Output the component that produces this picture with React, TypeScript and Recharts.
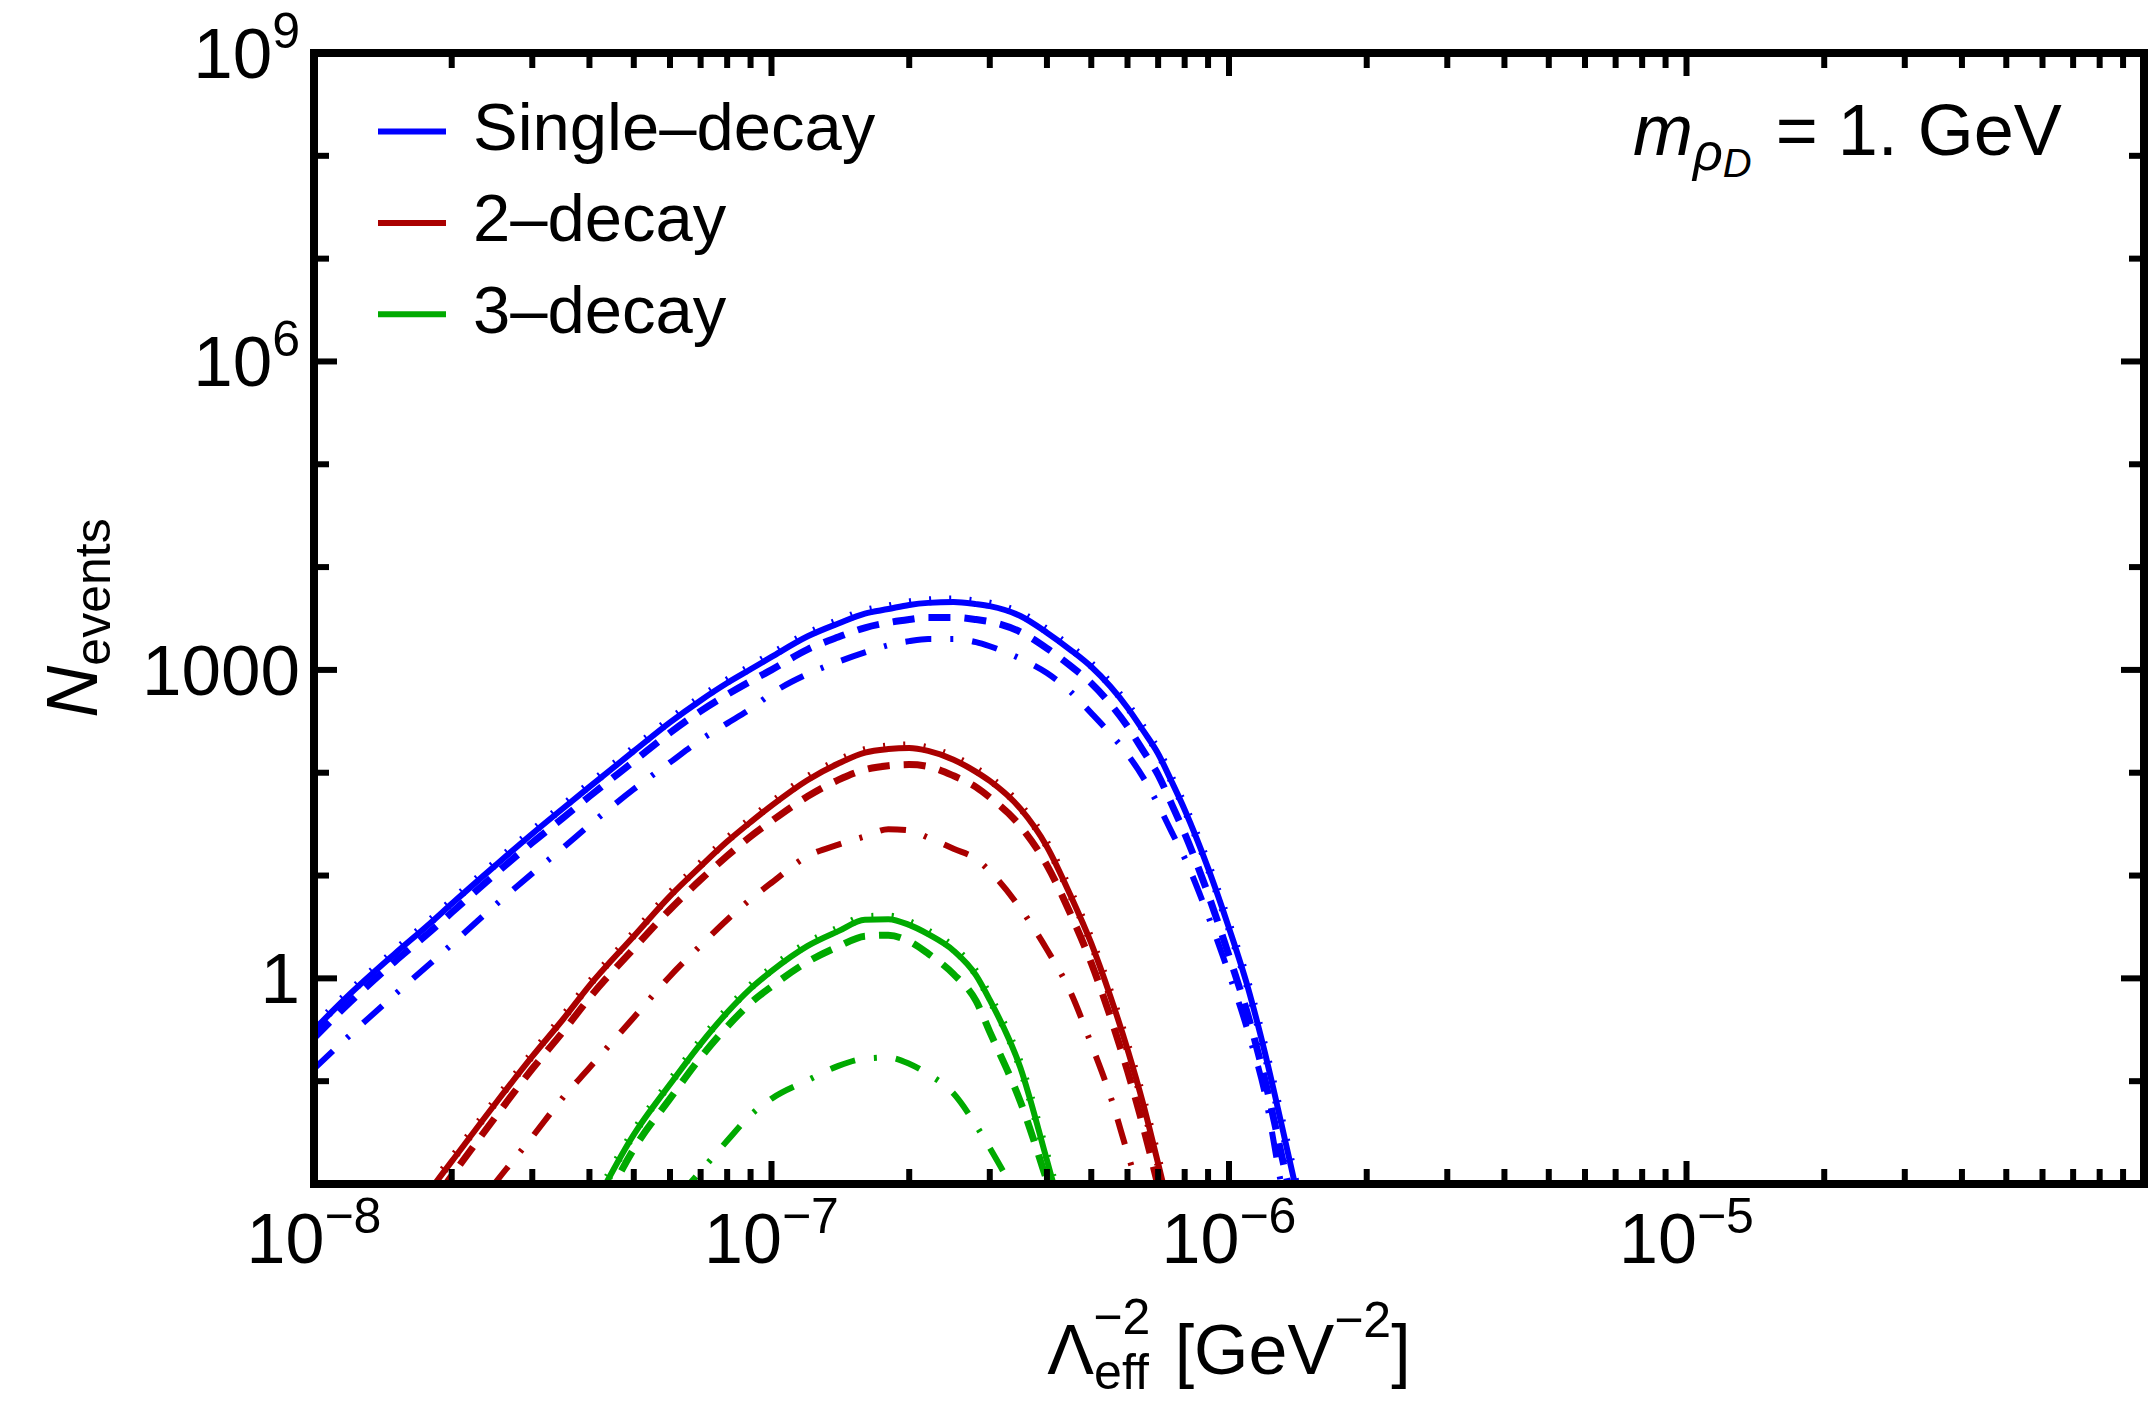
import React from 'react';
import { LineChart, Line, XAxis, YAxis, Legend } from 'recharts';

const W = 2150;
const H = 1404;
const FONT = '"Liberation Sans", Arial, Helvetica, sans-serif';
const BLUE = '#0000FF';
const RED = '#AA0000';
const GREEN = '#00AA00';

const nulls = (n: number) => Array(n).fill(null);

// Lambda_eff^-2 [GeV^-2]
const lambdaValues = [
  1e-8, 1.2e-8, 1.5e-8, 1.8e-8, 2e-8, 2.5e-8, 3e-8, 3.5e-8, 4e-8, 5e-8, 6e-8, 7e-8, 8e-8, 9e-8,
  1e-7, 1.2e-7, 1.4e-7, 1.6e-7, 1.8e-7, 2e-7, 2.2e-7, 2.5e-7, 2.8e-7, 3e-7, 3.5e-7, 4e-7, 4.5e-7,
  5e-7, 5.5e-7, 6e-7, 6.5e-7, 7e-7, 7.5e-7, 8e-7, 9e-7, 1e-6, 1.1e-6, 1.2e-6, 1.3e-6, 1.4e-6, 1.5e-6,
];

// Single-decay
const blueSolid = [
  0.316, 0.708, 1.73, 3.48, 5.31, 12.7, 25.5, 44.9, 72.8, 162, 309, 505, 745, 1014, 1337, 2123, 2831,
  3532, 3908, 4285, 4487, 4571, 4365, 4169, 3342, 2301, 1570, 1072, 693, 429, 255, 153, 81.3, 43.7,
  11.8, 3.08, 0.811, 0.184, 0.0395, 0.00912, 0.00224,
];
const blueDotted = [
  0.331, 0.741, 1.81, 3.64, 5.56, 13.3, 26.7, 47.0, 76.2, 170, 323, 529, 780, 1062, 1400, 2223, 2964,
  3698, 4092, 4486, 4698, 4786, 4570, 4365, 3499, 2409, 1644, 1122, 726, 449, 267, 160, 85.1, 45.8,
  12.4, 3.22, 0.85, 0.193, 0.0414, 0.00955, 0.00235,
];
const blueDashed = [
  0.263, 0.589, 1.45, 2.88, 4.37, 10.5, 20.9, 36.3, 58.9, 129, 245, 398, 575, 776, 1000, 1585, 2089,
  2570, 2884, 3090, 3236, 3236, 3090, 2951, 2344, 1622, 1096, 741, 468, 282, 162, 95.5, 49.0, 25.7,
  6.61, 1.66, 0.437, 0.1, 0.02, 0.00447, 0.001,
];
const blueDotDashed = [
  0.132, 0.282, 0.692, 1.41, 2.14, 5.25, 10.5, 18.6, 30.9, 69.2, 126, 209, 302, 417, 589, 912, 1202,
  1479, 1738, 1905, 1995, 1995, 1862, 1698, 1288, 933, 617, 380, 240, 151, 89.1, 49.0, 26.3, 14.8,
  4.07, 1.11, 0.302, 0.0724, 0.01, 0.002, null,
];

// 2-decay
const redSolid = [
  ...nulls(2), 0.00316, 0.00891, 0.0166, 0.0617, 0.174, 0.398, 0.851, 2.57, 6.31, 12.3, 21.4, 33.1,
  47.9, 85.1, 123, 157, 170, 174, 163, 134, 102, 83.2, 44.7, 19.1, 6.46, 2.19, 0.676, 0.204, 0.0589,
  0.0158, 0.00447, 0.00126, ...nulls(7),
];
const redDotted = [
  ...nulls(2), 0.00331, 0.00933, 0.0174, 0.0646, 0.182, 0.417, 0.891, 2.69, 6.61, 12.9, 22.4, 34.7,
  50.2, 89.1, 129, 164, 178, 182, 171, 140, 107, 87.1, 46.8, 20.0, 6.76, 2.29, 0.708, 0.214, 0.0617,
  0.0165, 0.00468, 0.00132, ...nulls(7),
];
const redDashed = [
  ...nulls(2), 0.00224, 0.00631, 0.012, 0.0457, 0.132, 0.302, 0.646, 1.95, 4.68, 9.12, 15.5, 24.0,
  33.9, 58.9, 85.1, 107, 117, 120, 115, 93.3, 72.4, 57.5, 30.2, 12.6, 4.27, 1.41, 0.427, 0.126,
  0.0355, 0.00955, 0.00251, ...nulls(8),
];
const redDotDashed = [
  ...nulls(4), 0.00282, 0.0105, 0.0288, 0.0692, 0.135, 0.417, 1.05, 2.09, 3.72, 5.89, 8.51, 15.5,
  20.0, 24.0, 28.2, 27.5, 23.4, 18.2, 14.5, 11.0, 4.79, 1.91, 0.741, 0.229, 0.0724, 0.02, 0.00631,
  0.002, ...nulls(9),
];

// 3-decay
const greenSolid = [
  ...nulls(8), 0.00501, 0.0302, 0.0933, 0.231, 0.465, 0.794, 1.175, 2.07, 2.88, 3.72, 3.76, 3.31,
  2.69, 1.86, 1.07, 0.617, 0.135, 0.017, 0.00251, ...nulls(14),
];
const greenDotted = [
  ...nulls(8), 0.00525, 0.0316, 0.0977, 0.242, 0.487, 0.831, 1.23, 2.17, 3.02, 3.89, 3.94, 3.47,
  2.82, 1.95, 1.12, 0.646, 0.141, 0.0178, 0.00263, ...nulls(14),
];
const greenDashed = [
  ...nulls(8), 0.00316, 0.0219, 0.0676, 0.17, 0.339, 0.575, 0.832, 1.45, 2.04, 2.57, 2.63, 2.29,
  1.74, 1.10, 0.603, 0.302, 0.0631, 0.0107, 0.002, ...nulls(14),
];
const greenDotDashed = [
  ...nulls(9), 0.00251, 0.00617, 0.0133, 0.0263, 0.0468, 0.0676, 0.102, 0.141, 0.166, 0.170, 0.148,
  0.117, 0.0759, 0.0372, 0.0224, 0.00631, 0.00158, ...nulls(15),
];

// axes
const xDomain = [1e-8, 1e-4];
const yDomain = [0.01, 1e9];
const xDecadeExponents = [-8, -7, -6, -5];
const xMantissas = [1, 2, 3, 4, 5, 6, 7, 8, 9];
const xTickLabelExps = ['\u22128', '\u22127', '\u22126', '\u22125'];
const xTicks = xDecadeExponents.flatMap((e) => xMantissas.map((m) => m * Math.pow(10, e)));
const yTicks = [0.1, 1, 10, 100, 1000, 1e4, 1e5, 1e6, 1e7, 1e8, 1e9];
const yLabelValues = [1, 1000, 1e6, 1e9];
const yLabelBases = ['1', '1000', '10', '10'];
const yLabelExps = ['', '', '6', '9'];

const legendItems = [
  { label: 'Single\u2013decay', color: BLUE },
  { label: '2\u2013decay', color: RED },
  { label: '3\u2013decay', color: GREEN },
];

const isDecade = (v: number) => Math.abs(Math.log10(v) - Math.round(Math.log10(v))) < 1e-6;
const TICK_W = 6;
const MAJOR_LEN = 23;
const MINOR_LEN = 15;
const frameLine = { stroke: '#000', strokeWidth: 8, strokeLinecap: 'square' as const };

const BottomTick = (props: any) => {
  const { x, y, payload } = props;
  const v = payload.value;
  const major = isDecade(v);
  const e = Math.round(Math.log10(v));
  const idx = xDecadeExponents.indexOf(e);
  return (
    <g>
      <line x1={x} x2={x} y1={y} y2={y - (major ? MAJOR_LEN : MINOR_LEN)} stroke="#000" strokeWidth={TICK_W} />
      {major && idx >= 0 && (
        <text x={x} y={y + 79} textAnchor="middle" fontFamily={FONT} fill="#000">
          <tspan fontSize={70}>10</tspan>
          <tspan fontSize={50} dy={-30}>{xTickLabelExps[idx]}</tspan>
        </text>
      )}
    </g>
  );
};

const TopTick = (props: any) => {
  const { x, y, payload } = props;
  const major = isDecade(payload.value);
  return (
    <line x1={x} x2={x} y1={y} y2={y + (major ? MAJOR_LEN : MINOR_LEN)} stroke="#000" strokeWidth={TICK_W} />
  );
};

const LeftTick = (props: any) => {
  const { x, y, payload } = props;
  const v = payload.value;
  const idx = yLabelValues.findIndex((l) => Math.abs(Math.log10(l) - Math.log10(v)) < 1e-6);
  const major = idx >= 0;
  return (
    <g>
      <line x1={x} x2={x + (major ? MAJOR_LEN : MINOR_LEN)} y1={y} y2={y} stroke="#000" strokeWidth={TICK_W} />
      {major && (
        <text x={x - 14} y={y + 25} textAnchor="end" fontFamily={FONT} fill="#000">
          <tspan fontSize={71}>{yLabelBases[idx]}</tspan>
          {yLabelExps[idx] && (
            <tspan fontSize={50} dy={-30}>
              {yLabelExps[idx]}
            </tspan>
          )}
        </text>
      )}
    </g>
  );
};

const RightTick = (props: any) => {
  const { x, y, payload } = props;
  const v = payload.value;
  const major = yLabelValues.some((l) => Math.abs(Math.log10(l) - Math.log10(v)) < 1e-6);
  return (
    <line x1={x} x2={x - (major ? MAJOR_LEN : MINOR_LEN)} y1={y} y2={y} stroke="#000" strokeWidth={TICK_W} />
  );
};

const renderLegend = () => (
  <svg width={620} height={280} style={{ overflow: 'visible' }}>
    {legendItems.map((it, i) => {
      const cy = 41.5 + i * 91.4;
      return (
        <g key={it.label}>
          <line x1={8} x2={76} y1={cy} y2={cy} stroke={it.color} strokeWidth={6} />
          <text x={103} y={cy + 18.5} fontSize={67} fontFamily={FONT} fill="#000">
            {it.label}
          </text>
        </g>
      );
    })}
  </svg>
);

type S = { key: string; color: string; dash?: string; width: number };
const seriesStyles: S[] = [
  { key: 'bS', color: BLUE, width: 6 },
  { key: 'bO', color: BLUE, dash: '2 18', width: 9 },
  { key: 'bD', color: BLUE, dash: '22 14', width: 7 },
  { key: 'bC', color: BLUE, dash: '26 19 3 19', width: 6 },
  { key: 'rS', color: RED, width: 6 },
  { key: 'rO', color: RED, dash: '2 18', width: 9 },
  { key: 'rD', color: RED, dash: '22 14', width: 7 },
  { key: 'rC', color: RED, dash: '26 19 3 19', width: 6 },
  { key: 'gS', color: GREEN, width: 6 },
  { key: 'gO', color: GREEN, dash: '2 18', width: 9 },
  { key: 'gD', color: GREEN, dash: '22 14', width: 7 },
  { key: 'gC', color: GREEN, dash: '26 19 3 19', width: 6 },
];

export default function App() {
  const data = lambdaValues.map((x, i) => ({
    x,
    bS: blueSolid[i],
    bO: blueDotted[i],
    bD: blueDashed[i],
    bC: blueDotDashed[i],
    rS: redSolid[i],
    rO: redDotted[i],
    rD: redDashed[i],
    rC: redDotDashed[i],
    gS: greenSolid[i],
    gO: greenDotted[i],
    gD: greenDashed[i],
    gC: greenDotDashed[i],
  }));

  return (
    <div style={{ position: 'absolute', left: 0, top: 0, width: W, height: H, background: '#fff' }}>
      <LineChart width={W} height={H} data={data} margin={{ top: 52, right: 5, bottom: 120, left: 214 }}>
        <XAxis
          xAxisId="b"
          orientation="bottom"
          dataKey="x"
          type="number"
          scale="log"
          domain={xDomain}
          allowDataOverflow
          ticks={xTicks}
          interval={0}
          tick={BottomTick}
          tickLine={false}
          tickSize={0}
          tickMargin={0}
          axisLine={frameLine}
          height={100}
        />
        <XAxis
          xAxisId="t"
          orientation="top"
          dataKey="x"
          type="number"
          scale="log"
          domain={xDomain}
          allowDataOverflow
          ticks={xTicks}
          interval={0}
          tick={TopTick}
          tickLine={false}
          tickSize={0}
          tickMargin={0}
          axisLine={frameLine}
          height={1}
        />
        <YAxis
          yAxisId="l"
          orientation="left"
          type="number"
          scale="log"
          domain={yDomain}
          allowDataOverflow
          ticks={yTicks}
          interval={0}
          tick={LeftTick}
          tickLine={false}
          tickSize={0}
          tickMargin={0}
          axisLine={frameLine}
          width={100}
        />
        <YAxis
          yAxisId="r"
          orientation="right"
          type="number"
          scale="log"
          domain={yDomain}
          allowDataOverflow
          ticks={yTicks}
          interval={0}
          tick={RightTick}
          tickLine={false}
          tickSize={0}
          tickMargin={0}
          axisLine={frameLine}
          width={1}
        />
        {seriesStyles.map((s) => (
          <Line
            key={s.key}
            xAxisId="b"
            yAxisId="l"
            dataKey={s.key}
            type="monotone"
            stroke={s.color}
            strokeWidth={s.width}
            strokeDasharray={s.dash}
            dot={false}
            activeDot={false}
            isAnimationActive={false}
            connectNulls={false}
          />
        ))}
        <Legend
          layout="vertical"
          align="center"
          verticalAlign="middle"
          content={renderLegend}
          wrapperStyle={{ position: 'absolute', left: 370, top: 90, width: 620, height: 280 }}
        />
      </LineChart>
      <svg
        width={W}
        height={H}
        style={{ position: 'absolute', left: 0, top: 0, pointerEvents: 'none' }}
      >
        <text transform="translate(97,618) rotate(-90)" textAnchor="middle" fontFamily={FONT} fill="#000">
          <tspan fontSize={72} fontStyle="italic">N</tspan>
          <tspan fontSize={50} dy={13}>events</tspan>
        </text>
        <text x={1229} y={1374} textAnchor="middle" fontFamily={FONT} fontSize={70} fill="#000">
          <tspan>{'\u039B'}</tspan>
          <tspan fontSize={50} dy={15}>eff</tspan>
          <tspan fontSize={50} dx={-55.6} dy={-55}>{'\u22122'}</tspan>
          <tspan dx={5} dy={40}>{' [GeV'}</tspan>
          <tspan fontSize={50} dy={-37}>{'\u22122'}</tspan>
          <tspan dy={37}>]</tspan>
        </text>
        <text x={1633} y={155} fontFamily={FONT} fontSize={72} fill="#000">
          <tspan fontStyle="italic">m</tspan>
          <tspan fontStyle="italic" fontSize={52} dy={15}>{'\u03C1'}</tspan>
          <tspan fontStyle="italic" fontSize={40} dy={7}>D</tspan>
          <tspan dy={-22} dx={4}>{' = 1. GeV'}</tspan>
        </text>
      </svg>
    </div>
  );
}
